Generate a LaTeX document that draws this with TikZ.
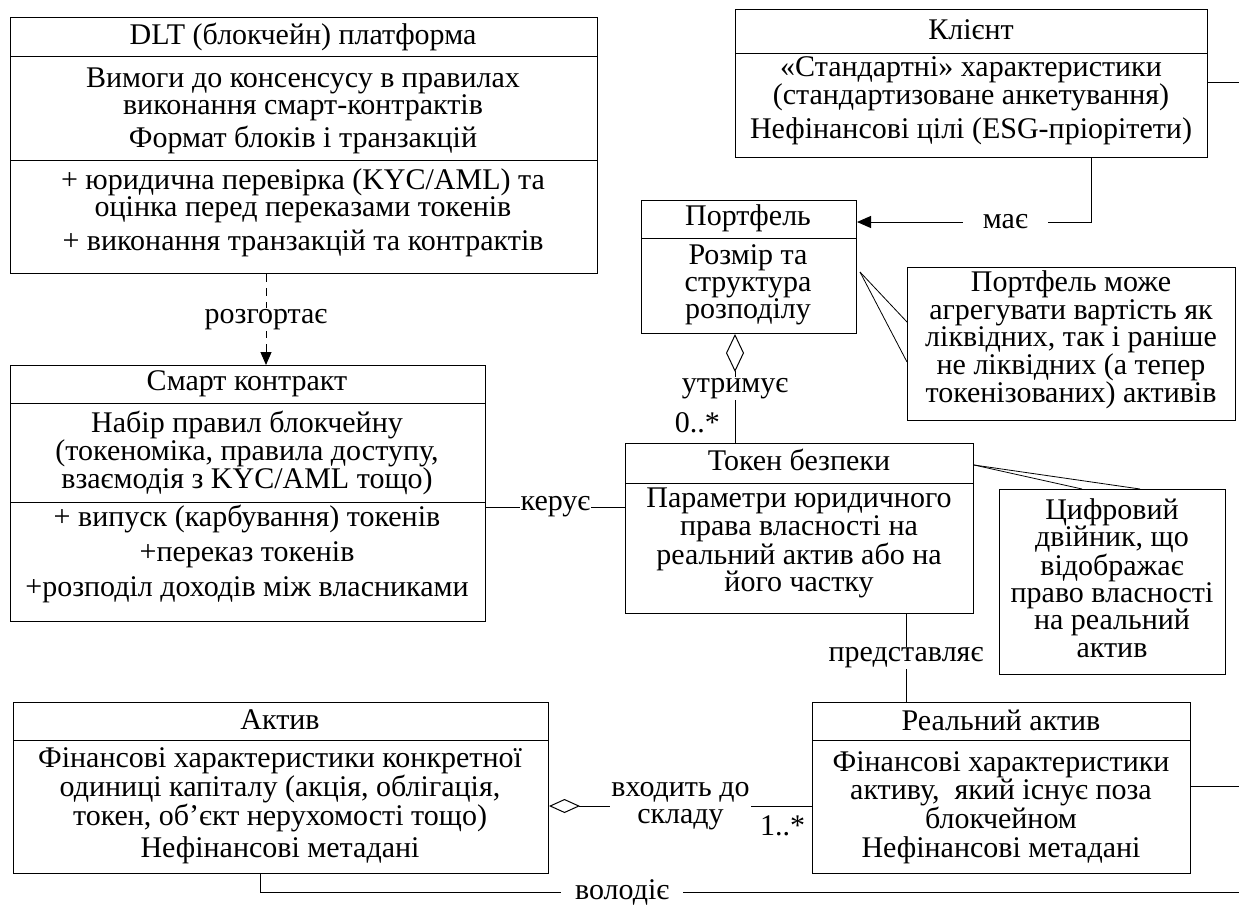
\documentclass[tikz,border=0pt]{standalone}
\usepackage{fontspec}
\setmainfont{Liberation Serif}
\usetikzlibrary{arrows.meta}
\begin{document}
\begin{tikzpicture}[x=1pt,y=-1pt,
  font=\fontsize{30}{26.5}\selectfont,
  box/.style={draw, line width=1pt, anchor=north west, inner sep=0pt},
  txt/.style={inner sep=0pt, align=center},
  wide/.style={font=\fontsize{30}{27.2}\selectfont},
  lbl/.style={fill=white, inner xsep=3pt, inner ysep=1pt},
  conn/.style={line width=1pt},
  thin/.style={line width=0.8pt}]
\useasboundingbox (0,0) rectangle (1239,908);
\fill[white] (0,0) rectangle (1239,908);

% ---- DLT platform
\node[box, minimum width=587pt, minimum height=256pt] (dlt) at (10,17) {};
\draw[conn] (dlt.west |- 0,56) -- (dlt.east |- 0,56);
\draw[conn] (dlt.west |- 0,160) -- (dlt.east |- 0,160);
\node[txt] (dltA) at (303,37) {DLT (блокчейн) платформа};
\node[txt, wide] (dltB) at (303,94) {Вимоги до консенсусу в правилах\\виконання смарт-контрактів};
\node[txt] (dltC) at (303,140) {Формат блоків і транзакцій};
\node[txt, wide] (dltD) at (303,196) {+ юридична перевірка (KYC/AML) та\\оцінка перед переказами токенів};
\node[txt] (dltE) at (303,243) {+ виконання транзакцій та контрактів};

% ---- Smart contract
\node[box, minimum width=475pt, minimum height=256pt] (sc) at (10,365) {};
\draw[conn] (sc.west |- 0,403) -- (sc.east |- 0,403);
\draw[conn] (sc.west |- 0,502) -- (sc.east |- 0,502);
\node[txt] (scA) at (247,384) {Смарт контракт};
\node[txt] (scB) at (247,453) {Набір правил блокчейну\\(токеноміка, правила доступу,\\взаємодія з KYC/AML тощо)};
\node[txt] (scC) at (247,519) {+ випуск (карбування) токенів};
\node[txt] (scD) at (247,555) {+переказ токенів};
\node[txt] (scE) at (247,590) {+розподіл доходів між власниками};

% ---- Client
\node[box, minimum width=472pt, minimum height=148pt] (cl) at (735,9) {};
\draw[conn] (cl.west |- 0,53) -- (cl.east |- 0,53);
\node[txt] (clA) at (971,30) {Клієнт};
\node[txt] (clB) at (971,84) {«Стандартні» характеристики\\(стандартизоване анкетування)};
\node[txt] (clC) at (971,131) {Нефінансові цілі (ESG-пріорітети)};

% ---- Portfolio
\node[box, minimum width=215pt, minimum height=133pt] (pf) at (641,200) {};
\draw[conn] (pf.west |- 0,238) -- (pf.east |- 0,238);
\node[txt] (pfA) at (748,218) {Портфель};
\node[txt, wide] (pfB) at (748,285) {Розмір та\\структура\\розподілу};

% ---- Note 1
\node[box, minimum width=328pt, minimum height=153pt] (n1) at (907,267) {};
\node[txt, wide] (n1t) at (1071,340) {Портфель може\\агрегувати вартість як\\ліквідних, так і раніше\\не ліквідних (а тепер\\токенізованих) активів};
\coordinate (c1) at (860,272);
\draw[thin] (c1) -- (n1.west |- 0,322);
\draw[thin] (c1) -- (n1.west |- 0,362);

% ---- Security token
\node[box, minimum width=348pt, minimum height=170pt] (tok) at (625,443) {};
\draw[conn] (tok.west |- 0,483) -- (tok.east |- 0,483);
\node[txt] (tokA) at (799,460) {Токен безпеки};
\node[txt, wide] (tokB) at (799,543) {Параметри юридичного\\права власності на\\реальний актив або на\\його частку};

% ---- Note 2
\node[box, minimum width=226pt, minimum height=185pt] (n2) at (999,489) {};
\node[txt, wide] (n2t) at (1112,578) {Цифровий\\двійник, що\\відображає\\право власності\\на реальний\\актив};
\coordinate (c2) at (tok.east |- 0,465);
\draw[thin] (c2) -- (n2.north -| 1082,0);
\draw[thin] (c2) -- (n2.north -| 1140,0);

% ---- Real asset
\node[box, minimum width=378pt, minimum height=171pt] (ra) at (812,702) {};
\draw[conn] (ra.west |- 0,740) -- (ra.east |- 0,740);
\node[txt] (raA) at (1001,720) {Реальний актив};
\node[txt] (raB) at (1001,790) {Фінансові характеристики\\активу,\ \ який існує поза\\блокчейном};
\node[txt] (raC) at (1001,850) {Нефінансові метадані};

% ---- Asset
\node[box, minimum width=535pt, minimum height=171pt] (ak) at (13,702) {};
\draw[conn] (ak.west |- 0,740) -- (ak.east |- 0,740);
\node[txt] (akA) at (280,720) {Актив};
\node[txt] (akB) at (280,790) {Фінансові характеристики конкретної\\одиниці капіталу (акція, облігація,\\токен, об'єкт нерухомості тощо)};
\node[txt] (akC) at (280,850) {Нефінансові метадані};

% ---- connectors
\coordinate (dx) at (266,0);
\draw[conn, dash pattern=on 8pt off 6pt, -{Triangle[length=13pt,width=11pt]}]
  (dlt.south -| dx) -- node[lbl] (l1) {розгортає} (sc.north -| dx);

\draw[conn] (sc.east |- 0,507) -- node[lbl, inner xsep=1pt] (l2) {керує} (tok.west |- 0,507);

\coordinate (clx) at (1091,0);
\draw[conn, -{Triangle[length=14pt,width=12pt]}]
  (cl.south -| clx) |- node[pos=0.683, lbl, inner xsep=20pt] (l3) {має} (pf.east |- 0,222);

\coordinate (px) at (735,0);
\draw[conn, {Diamond[open,length=38pt,width=18pt]}-]
  (pf.south -| px) -- node[lbl, pos=0.5] (l4) {утримує} (tok.north -| px);
\node[inner sep=0pt, anchor=east] (m1) at (720,423) {0..*};

\coordinate (tx) at (906,0);
\draw[conn] (tok.south -| tx) -- node[lbl] (l5) {представляє} (ra.north -| tx);

\draw[conn, {Diamond[open,length=31pt,width=14pt]}-]
  (ak.east |- 0,806) -- node[lbl, txt, wide, fill=white, inner xsep=1pt, pos=0.5] (l6) {входить до\\складу} (ra.west |- 0,806);
\node[inner sep=0pt, anchor=west] (m2) at (760,826) {1..*};

\coordinate (ax) at (260,0);
\coordinate (r3) at (1239,892);
\draw[conn] (ak.south -| ax) |- node[pos=0.685, lbl, inner xsep=14pt, inner ysep=0pt] (l7) {володіє} (r3);

\coordinate (r1) at (1239,82);
\draw[conn] (cl.east |- r1) -- (r1);
\coordinate (r2) at (1239,786);
\draw[conn] (ra.east |- r2) -- (r2);
\end{tikzpicture}
\end{document}
